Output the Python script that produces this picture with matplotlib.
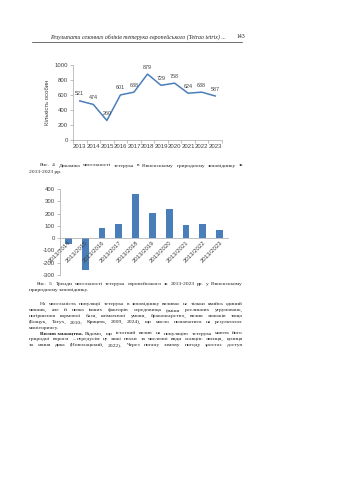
import matplotlib
matplotlib.use("Agg")
import matplotlib.pyplot as plt

plt.rcParams["axes.unicode_minus"] = False

W, H = 339, 480

# counts of black grouse per year
years = ["2013", "2014", "2015", "2016", "2017", "2018",
         "2019", "2020", "2021", "2022", "2023"]
counts = [521, 474, 260, 601, 638, 879, 729, 758, 624, 638, 587]

# change against the 2013 baseline
periods = ["2013/2014", "2013/2015", "2013/2016", "2013/2017", "2013/2018",
           "2013/2019", "2013/2020", "2013/2021", "2013/2022", "2013/2023"]
trend = [-47, -261, 80, 117, 358, 208, 237, 103, 117, 66]

BLUE = "#4a7ebb"
AXC = "#a6a6a6"
TXT = "#404040"
SANS = "Liberation Sans"
SERIF = "Liberation Serif"
BODY = 3.95
RIGHT = 243


def px_box(x0, y0, x1, y1):
    # pixel box (top-left origin) -> figure fraction
    return [x0 / W, 1 - y1 / H, (x1 - x0) / W, (y1 - y0) / H]


def put(x, y, s, **kw):
    kw.setdefault("family", SERIF)
    kw.setdefault("fontsize", BODY)
    kw.setdefault("color", "#222222")
    return fig.text(x / W, 1 - y / H, s, va="center", **kw)


def text_width(s, **kw):
    t = put(0, 0, s, **kw)
    w = t.get_window_extent(renderer=rend).width
    t.remove()
    return w


def justified(x, y, s, right=RIGHT, **kw):
    # spread words so the line runs from x to the right margin
    words = s.split(" ")
    size = kw.pop("fontsize", BODY)
    while True:
        widths = [text_width(w, fontsize=size, **kw) for w in words]
        gap = (right - x - sum(widths)) / max(len(words) - 1, 1)
        if gap >= 1.4 or size < 3.2:
            break
        size -= 0.05
    cx = x
    for w, ww in zip(words, widths):
        put(cx, y, w, fontsize=size, **kw)
        cx += ww + gap


fig = plt.figure(figsize=(W / 100, H / 100), dpi=100)
fig.patch.set_facecolor("white")
rend = fig.canvas.get_renderer()

# running header
put(50, 37, "Результати сезонних обліків тетерука європейського (Tetrao tetrix) ...",
    style="italic", fontsize=4.2)
put(237, 37, "143", fontsize=4.2)
fig.add_artist(plt.Line2D([32 / W, 242 / W], [1 - 41.5 / H] * 2,
                          color="#333333", lw=0.5))

# Fig. 4 – line chart
ax1 = fig.add_axes(px_box(73, 65, 222, 140))
xs = range(len(years))
ax1.plot(xs, counts, color=BLUE, lw=1.1)
for x, v in zip(xs, counts):
    ax1.annotate(str(v), (x, v), xytext=(0, 5), textcoords="offset points",
                 ha="center", va="center", fontsize=3.9, family=SANS, color=TXT)
ax1.set_xlim(-0.5, len(years) - 0.5)
ax1.set_ylim(0, 1000)
ax1.set_yticks(range(0, 1001, 200))
ax1.set_xticks(list(xs))
ax1.set_xticklabels(years)
ax1.set_xticks([i - 0.5 for i in range(len(years) + 1)], minor=True)
ax1.tick_params(axis="x", which="major", length=0, pad=3)
ax1.tick_params(axis="x", which="minor", length=2, color=AXC, width=0.5)
ax1.tick_params(axis="y", length=2, color=AXC, width=0.5, pad=1.5)
for lab in ax1.get_xticklabels() + ax1.get_yticklabels():
    lab.set_fontsize(4.3)
    lab.set_family(SANS)
    lab.set_color(TXT)
for side in ("top", "right"):
    ax1.spines[side].set_visible(False)
for side in ("left", "bottom"):
    ax1.spines[side].set_color(AXC)
    ax1.spines[side].set_linewidth(0.5)
ax1.set_ylabel("Кількість особин", fontsize=4.3, family=SANS, color=TXT, labelpad=3)

justified(40, 165.5, "Рис. 4. Динаміка чисельності тетерука в Рівненському природному заповіднику за")
put(29, 172, "2013-2023 рр.")

# Fig. 5 – bar chart
ax2 = fig.add_axes(px_box(60, 189, 228, 275))
bx = range(len(periods))
ax2.bar(bx, trend, width=0.4, color=BLUE)
ax2.spines["bottom"].set_position(("data", 0))
ax2.set_xlim(-0.5, len(periods) - 0.5)
ax2.set_ylim(-300, 400)
ax2.set_yticks(range(-300, 401, 100))
ax2.set_xticks(list(bx))
ax2.set_xticklabels(periods)
for side in ("top", "right"):
    ax2.spines[side].set_visible(False)
for side in ("left", "bottom"):
    ax2.spines[side].set_color(AXC)
    ax2.spines[side].set_linewidth(0.5)
ax2.tick_params(axis="x", length=0, pad=1.5)
ax2.tick_params(axis="y", length=2, color=AXC, width=0.5, pad=1.5)
for lab in ax2.get_xticklabels():
    lab.set_rotation(45)
    lab.set_ha("right")
    lab.set_rotation_mode("anchor")
for lab in ax2.get_xticklabels() + ax2.get_yticklabels():
    lab.set_fontsize(4.3)
    lab.set_family(SANS)
    lab.set_color(TXT)

justified(37, 284, "Рис. 5. Тренди чисельності тетерука європейського за 2013-2023 рр. у Рівненському")
put(29, 290.5, "природному заповіднику.")

# body text
body = [
    (40, 304, "На чисельність популяції тетерука в заповіднику впливає не тільки якийсь єдиний"),
    (29, 310, "чинник, але й низка інших факторів середовища (зміни рослинних угруповань,"),
    (29, 316, "погіршення кормової бази, кліматичні умови, браконьєрство, вплив хижаків тощо"),
    (29, 322, "(Бощук, Татух, 2010; Крицюк, 2009, 2024), що могло позначатися на результатах"),
    (29, 339, "природні вороги – передусім це хижі птахи та численні види ссавців: лисиця, куниця"),
    (29, 345, "та свиня дика (Новохацький, 2022). Через погану зимову погоду зростає доступ"),
]
for x, y, s in body:
    justified(x, y, s)
put(29, 328, "моніторингу.")

bold = put(40, 333.5, "Вплив хижацтва.", weight="bold")
bx1 = bold.get_window_extent(renderer=rend).x1
justified(bx1 + 2, 333.5, "Відомо, що істотний вплив на популяцію тетерука мають його")

fig.savefig("out.png", dpi=100)
